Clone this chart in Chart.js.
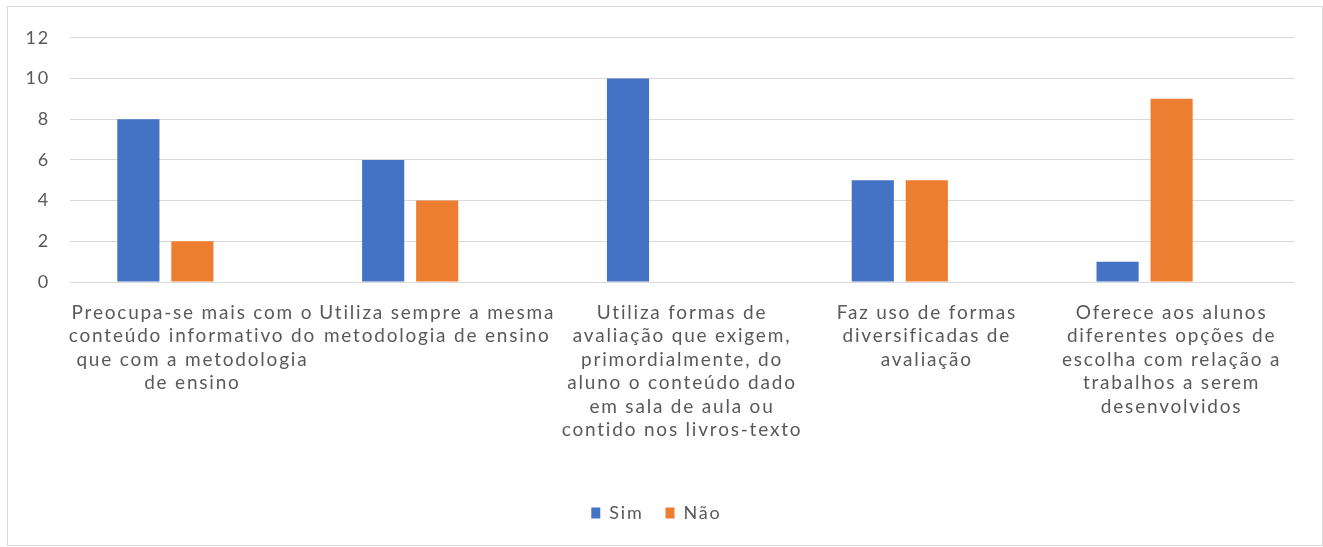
<!DOCTYPE html>
<html>
<head>
<meta charset="utf-8">
<script src="https://cdn.jsdelivr.net/npm/chart.js@4.4.1/dist/chart.umd.min.js"></script>
<style>
  html, body { margin: 0; padding: 0; background: #ffffff; }
  #frame {
    position: absolute; left: 7px; top: 6px;
    width: 1314px; height: 538px;
    border: 1px solid #d9d9d9; background: #ffffff;
  }
  #frame canvas { display: block; }
</style>
</head>
<body>
<div id="frame"><canvas id="chart" width="1314" height="538"></canvas></div>
<script>
// Categories (each label split into its display lines)
const categories = [
  ["Preocupa-se mais com o", "conteúdo informativo do", "que com a metodologia", "de ensino"],
  ["Utiliza sempre a mesma", "metodologia de ensino"],
  ["Utiliza formas de", "avaliação que exigem,", "primordialmente, do", "aluno o conteúdo dado", "em sala de aula ou", "contido nos livros-texto"],
  ["Faz uso de formas", "diversificadas de", "avaliação"],
  ["Oferece aos alunos", "diferentes opções de", "escolha com relação a", "trabalhos a serem", "desenvolvidos"]
];
const simValues = [8, 6, 10, 5, 1];
const naoValues = [2, 4, 0, 5, 9];
// third (empty) series slot of the clustered layout
const emptyValues = [null, null, null, null, null];
const yTicks = [0, 2, 4, 6, 8, 10, 12];

const FONT = "Lato, 'Open Sans', sans-serif";
const TEXT = "#595959";

// wider text tracking for all chart text
const tracking = {
  id: "tracking",
  beforeInit(chart) { chart.ctx.letterSpacing = "1.8px"; },
  beforeDraw(chart) { chart.ctx.letterSpacing = "1.8px"; }
};

new Chart(document.getElementById("chart"), {
  type: "bar",
  plugins: [tracking],
  data: {
    labels: categories,
    datasets: [
      { label: "Sim", data: simValues, backgroundColor: "#4472c4", borderWidth: 0 },
      { label: "Não", data: naoValues, backgroundColor: "#ed7d31", borderWidth: 0 },
      { label: "", data: emptyValues, backgroundColor: "rgba(0,0,0,0)" }
    ]
  },
  options: {
    responsive: false,
    animation: false,
    layout: { padding: { top: 28, right: 28, left: 0, bottom: 13 } },
    datasets: { bar: { categoryPercentage: 0.662, barPercentage: 0.78 } },
    plugins: {
      tooltip: { enabled: false },
      legend: {
        position: "bottom",
        labels: {
          filter: (item) => item.text !== "",
          boxWidth: 9, boxHeight: 11,
          color: TEXT,
          font: { family: FONT, size: 18 },
          padding: 22
        }
      }
    },
    scales: {
      x: {
        grid: { display: false, drawTicks: false },
        border: { display: false },
        ticks: {
          color: TEXT, maxRotation: 0, autoSkip: false, padding: 19,
          font: { family: FONT, size: 19, lineHeight: 1.237 }
        },
        afterFit: (s) => { s.height = 200; }
      },
      y: {
        min: 0, max: 12,
        afterBuildTicks: (s) => { s.ticks = yTicks.map(v => ({ value: v })); },
        grid: { color: "#d9d9d9", lineWidth: 1, drawTicks: false },
        border: { display: false },
        ticks: {
          color: TEXT, padding: 20,
          font: { family: FONT, size: 18 }
        },
        afterFit: (s) => { s.width = 62; }
      }
    }
  }
});
</script>
</body>
</html>
